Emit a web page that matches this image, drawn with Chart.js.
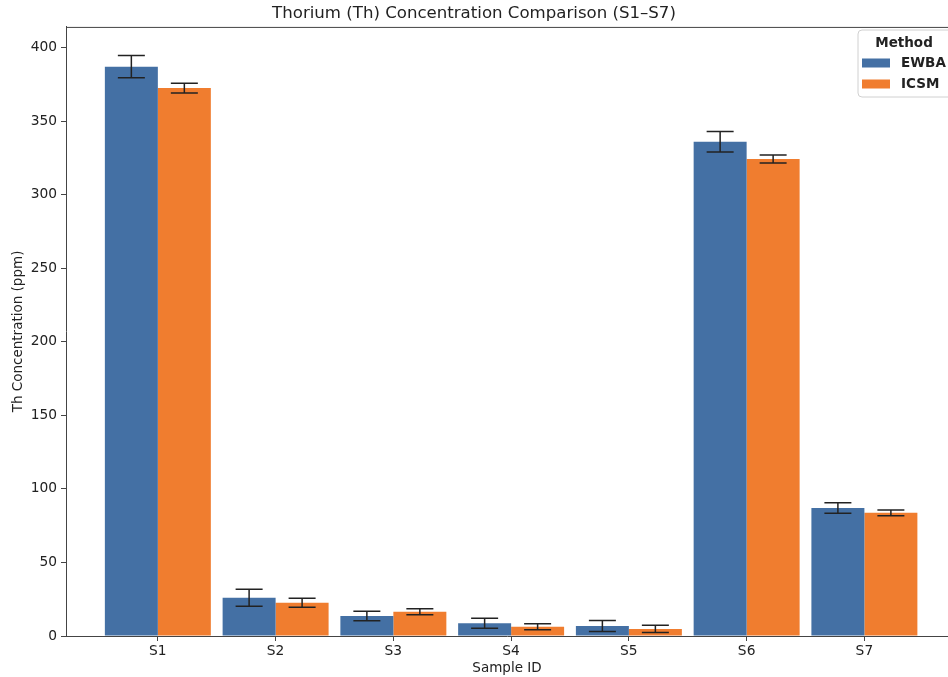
<!DOCTYPE html>
<html>
<head>
<meta charset="utf-8">
<script src="https://cdn.jsdelivr.net/npm/chart.js@4"></script>
<style>
  html, body { margin: 0; padding: 0; background: #fff; }
  #wrap { width: 948px; height: 677px; }
</style>
</head>
<body>
<div id="wrap"><canvas id="thChart"></canvas></div>
<script>
// Sample data
const samples = ['S1', 'S2', 'S3', 'S4', 'S5', 'S6', 'S7'];
const ewba = [387, 26, 13.6, 8.6, 6.8, 336, 87];
const ewbaErr = [7.5, 5.7, 3.2, 3.4, 3.7, 7, 3.5];
const icsm = [372.4, 22.6, 16.5, 6.3, 4.8, 324.2, 83.7];
const icsmErr = [3.3, 3, 2, 2, 2.5, 2.7, 2];
const yTicks = [0, 50, 100, 150, 200, 250, 300, 350, 400];

const axisColor = '#444';
const textColor = '#222';
const tickFont = { family: 'DejaVu Sans', size: 13.8 };
const labelFont = { family: 'DejaVu Sans', size: 13.5 };

// error bars drawn from the y scale
const errorBars = {
    id: 'errorBars',
    afterDatasetsDraw(chart) {
        const ctx = chart.ctx;
        const yScale = chart.scales.y;
        const errs = [ewbaErr, icsmErr];
        ctx.save();
        ctx.strokeStyle = '#222';
        ctx.lineWidth = 1.5;
        chart.data.datasets.forEach((ds, di) => {
            const meta = chart.getDatasetMeta(di);
            meta.data.forEach((bar, i) => {
                const v = ds.data[i].y;
                const e = errs[di][i];
                const top = yScale.getPixelForValue(v + e);
                const bot = yScale.getPixelForValue(v - e);
                const half = 13.5;
                ctx.beginPath();
                ctx.moveTo(bar.x, top); ctx.lineTo(bar.x, bot);
                ctx.moveTo(bar.x - half, top); ctx.lineTo(bar.x + half, top);
                ctx.moveTo(bar.x - half, bot); ctx.lineTo(bar.x + half, bot);
                ctx.stroke();
            });
        });
        ctx.restore();
    }
};

// top spine + boxed legend in the corner
const frameAndLegend = {
    id: 'frameAndLegend',
    afterDraw(chart) {
        const ctx = chart.ctx;
        const area = chart.chartArea;
        ctx.save();
        ctx.strokeStyle = axisColor;
        ctx.lineWidth = 1;
        ctx.beginPath();
        ctx.moveTo(area.left, area.top + 0.5);
        ctx.lineTo(area.right, area.top + 0.5);
        ctx.stroke();

        const bx = 858, by = 30, bw = 100, bh = 67;
        ctx.fillStyle = 'rgba(255,255,255,0.85)';
        ctx.strokeStyle = '#d0d0d0';
        ctx.beginPath();
        ctx.roundRect(bx, by, bw, bh, 4);
        ctx.fill();
        ctx.stroke();

        ctx.fillStyle = textColor;
        ctx.font = 'bold 13.5px "DejaVu Sans"';
        ctx.textAlign = 'center';
        ctx.textBaseline = 'middle';
        ctx.fillText('Method', 904, 43);

        ctx.textAlign = 'left';
        chart.data.datasets.forEach((ds, i) => {
            const y = 63 + i * 21;
            ctx.fillStyle = ds.backgroundColor;
            ctx.fillRect(862, y - 4.5, 28, 9);
            ctx.fillStyle = textColor;
            ctx.fillText(ds.label, 901, y);
        });
        ctx.restore();
    }
};

new Chart(document.getElementById('thChart'), {
    type: 'bar',
    data: {
        datasets: [
            {
                label: 'EWBA',
                data: ewba.map((v, i) => ({ x: i, y: v })),
                backgroundColor: '#4470a4',
                categoryPercentage: 0.9,
                barPercentage: 1.0
            },
            {
                label: 'ICSM',
                data: icsm.map((v, i) => ({ x: i, y: v })),
                backgroundColor: '#f07d2f',
                categoryPercentage: 0.9,
                barPercentage: 1.0
            }
        ]
    },
    options: {
        responsive: true,
        maintainAspectRatio: false,
        animation: false,
        layout: { padding: { left: 0, right: 0, top: 0, bottom: 0 } },
        plugins: {
            legend: { display: false },
            tooltip: { enabled: false },
            title: {
                display: true,
                text: 'Thorium (Th) Concentration Comparison (S1\u2013S7)',
                color: textColor,
                font: { family: 'DejaVu Sans', size: 16.6, weight: 'normal' },
                padding: { top: 4, bottom: 3 }
            }
        },
        scales: {
            x: {
                type: 'linear',
                offset: false,
                min: -0.78,
                max: 6.71,
                afterBuildTicks: scale => {
                    scale.ticks = samples.map((_, i) => ({ value: i }));
                },
                afterFit: scale => { scale.height = 41; },
                ticks: {
                    color: textColor,
                    font: tickFont,
                    padding: 2,
                    callback: v => samples[v]
                },
                grid: {
                    display: true,
                    offset: false,
                    drawOnChartArea: false,
                    drawTicks: true,
                    tickLength: 5,
                    color: axisColor
                },
                border: { display: true, color: axisColor },
                title: {
                    display: true,
                    text: 'Sample ID',
                    color: textColor,
                    font: labelFont,
                    padding: { top: 0, bottom: 0 }
                }
            },
            y: {
                min: 0,
                max: 414,
                afterBuildTicks: scale => {
                    scale.ticks = yTicks.map(v => ({ value: v }));
                },
                afterFit: scale => { scale.width = 66; },
                ticks: {
                    color: textColor,
                    font: tickFont,
                    padding: 4
                },
                grid: {
                    display: true,
                    drawOnChartArea: false,
                    drawTicks: true,
                    tickLength: 5,
                    color: axisColor
                },
                border: { display: true, color: axisColor },
                title: {
                    display: true,
                    text: 'Th Concentration (ppm)',
                    color: textColor,
                    font: labelFont,
                    padding: { top: 10, bottom: 6 }
                }
            }
        }
    },
    plugins: [errorBars, frameAndLegend]
});
</script>
</body>
</html>
